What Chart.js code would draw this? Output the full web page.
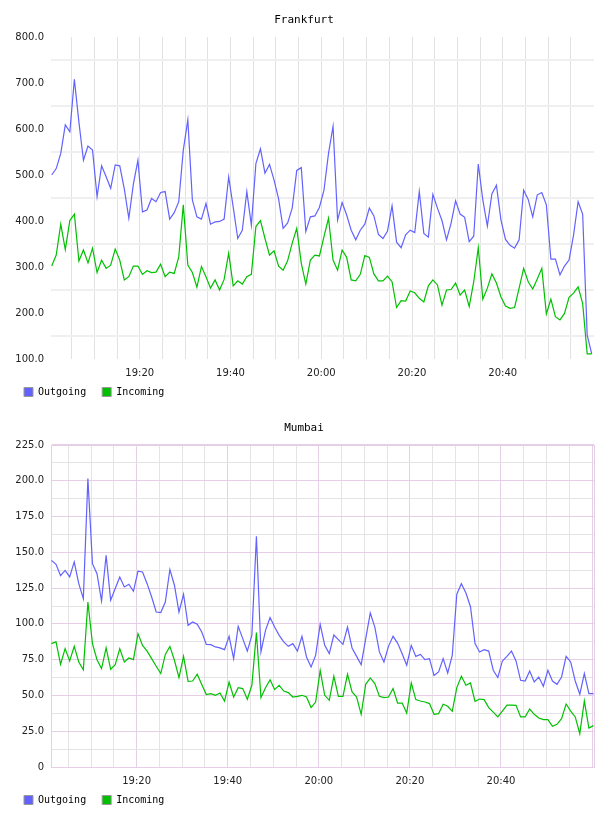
<!DOCTYPE html>
<html>
<head>
<meta charset="utf-8">
<title>Frankfurt / Mumbai traffic</title>
<script src="https://cdn.jsdelivr.net/npm/chart.js@4/dist/chart.umd.min.js"></script>
<style>
    html, body { margin: 0; padding: 0; background: #fff; }
    .box { width: 608px; height: 408px; }
</style>
</head>
<body>
<div class="box"><canvas id="frankfurtChart" width="608" height="408"></canvas></div>
<div class="box"><canvas id="mumbaiChart" width="608" height="408"></canvas></div>
<script>
// ===== DATA =====
// one sample per minute, x = minutes after 19:00

const frankfurtStart = 0.6;
const frankfurtOutgoing = [
    500, 514, 547, 609, 594, 708, 615, 532, 563, 554,
    453, 520, 496, 471, 522, 520, 470, 406, 480, 532,
    420, 424, 449, 442, 462, 464, 404, 418, 442, 554,
    620, 446, 409, 404, 438, 393, 398, 399, 404, 496,
    430, 362, 380, 464, 391, 525, 557, 504, 523, 489,
    448, 384, 396, 428, 510, 516, 377, 409, 411, 430,
    467, 547, 606, 402, 440, 413, 380, 359, 380, 393,
    428, 411, 371, 362, 378, 433, 354, 342, 370, 380,
    375, 464, 373, 365, 458, 428, 401, 359, 395, 444,
    415, 408, 355, 367, 524, 446, 389, 459, 478, 402,
    360, 347, 341, 359, 467, 447, 409, 457, 462, 435,
    317, 317, 283, 302, 315, 370, 442, 415, 152, 111
];
const frankfurtIncoming = [
    302, 326, 393, 338, 401, 415, 313, 337, 309, 341,
    288, 315, 297, 304, 339, 315, 272, 279, 302, 302,
    284, 292, 288, 289, 306, 279, 289, 286, 322, 435,
    304, 288, 256, 301, 279, 254, 272, 250, 273, 330,
    259, 270, 263, 279, 284, 388, 401, 362, 326, 335,
    302, 293, 314, 352, 384, 308, 263, 315, 326, 324,
    366, 406, 315, 293, 337, 321, 272, 270, 284, 325,
    321, 285, 270, 270, 280, 268, 212, 227, 226, 248,
    244, 232, 224, 259, 272, 261, 217, 250, 251, 265,
    239, 250, 214, 268, 342, 230, 254, 285, 265, 235,
    215, 210, 212, 254, 297, 268, 252, 274, 297, 198,
    230, 192, 185, 199, 234, 243, 257, 221, 111, 111
];

const mumbaiStart = 1.3;
const mumbaiOutgoing = [
    144.4, 141.6, 133.7, 137.4, 132.8, 143.3, 128.1, 117.7, 201.5, 142.1,
    135.1, 116.0, 148.0, 116.5, 124.7, 132.8, 125.8, 127.7, 122.8, 136.8,
    136.3, 128.1, 118.8, 108.3, 107.9, 115.3, 138.0, 127.0, 108.3, 120.7,
    99.0, 101.3, 99.7, 94.3, 85.7, 85.5, 83.9, 83.2, 82.0, 91.3,
    75.7, 98.3, 89.7, 81.0, 92.0, 161.2, 80.4, 95.5, 104.4, 97.8,
    92.0, 87.4, 84.3, 86.2, 81.0, 91.3, 76.9, 69.9, 78.0, 99.7,
    85.0, 79.2, 92.2, 89.0, 85.7, 97.8, 83.2, 77.3, 71.5, 89.7,
    107.6, 97.8, 80.4, 73.4, 84.3, 91.3, 86.6, 79.2, 71.1, 85.0,
    77.3, 78.7, 75.0, 75.7, 63.9, 66.4, 75.7, 65.7, 78.0, 120.7,
    128.1, 121.6, 112.0, 86.2, 80.4, 82.0, 81.0, 67.6, 62.5, 74.1,
    77.3, 81.0, 74.1, 60.6, 60.1, 67.1, 59.4, 62.9, 56.4, 67.6,
    60.1, 57.8, 62.9, 77.3, 73.4, 60.1, 50.8, 65.3, 51.3, 51.3
];
const mumbaiIncoming = [
    86.2, 87.4, 71.8, 82.7, 74.1, 84.3, 73.4, 68.0, 115.3, 86.2,
    75.0, 68.8, 83.2, 68.3, 71.5, 82.7, 73.4, 76.2, 75.0, 93.2,
    85.0, 81.0, 75.7, 70.4, 65.3, 78.7, 84.3, 74.6, 62.5, 77.3,
    59.9, 60.1, 64.8, 57.6, 50.6, 51.3, 50.1, 51.7, 46.1, 59.4,
    48.9, 55.4, 54.8, 47.3, 57.1, 93.9, 48.5, 55.4, 61.0, 54.1,
    57.1, 53.1, 52.0, 48.9, 49.4, 50.1, 48.9, 41.5, 45.4, 67.4,
    50.1, 46.6, 63.4, 49.4, 49.4, 64.8, 52.4, 48.9, 36.8, 57.8,
    62.2, 58.3, 49.4, 48.5, 48.9, 54.8, 44.7, 44.7, 37.7, 58.7,
    47.1, 46.1, 45.4, 44.3, 36.8, 37.3, 43.8, 42.4, 38.9, 55.5,
    63.4, 57.1, 58.7, 45.9, 47.5, 47.1, 41.5, 38.4, 35.0, 39.1,
    43.3, 43.3, 43.1, 35.0, 35.0, 40.5, 36.8, 34.2, 33.1, 33.1,
    28.4, 29.8, 33.8, 44.0, 39.1, 35.0, 23.3, 46.1, 27.2, 28.9
];

// x grid every 5 minutes, labels every 20
const gridMinutes = [5, 10, 15, 20, 25, 30, 35, 40, 45, 50, 55, 60,
                     65, 70, 75, 80, 85, 90, 95, 100, 105, 110, 115];
const labelMinutes = [20, 40, 60, 80, 100];

const frankfurtYLabels = [100, 200, 300, 400, 500, 600, 700, 800];
const mumbaiYLabels = [0, 25, 50, 75, 100, 125, 150, 175, 200, 225];

const BLUE = '#6262ff';
const GREEN = '#00c000';
const PURPLE = '#e6cfe6';

// ===== Helpers =====
function hhmm(m) {
    const h = 19 + Math.floor(m / 60);
    return h + ':' + String(m % 60).padStart(2, '0');
}

function toPoints(start, values) {
    return values.map((v, i) => ({ x: start + i, y: v }));
}

// small layout tweaks after Chart.js has placed the boxes:
// title centred on the whole canvas, x labels allowed below the thin x axis box
const layoutTweaks = {
    id: 'layoutTweaks',
    afterLayout(chart) {
        if (chart.titleBlock) {
            chart.titleBlock.left = 0;
            chart.titleBlock.right = chart.width;
        }
        chart.scales.x.bottom = chart.height;
    }
};

function makeChart(id, o) {
    return new Chart(document.getElementById(id), {
        type: 'line',
        data: {
            datasets: [
                { label: 'Outgoing', data: toPoints(o.start, o.outgoing),
                  borderColor: BLUE, backgroundColor: BLUE, borderWidth: 1.2,
                  pointRadius: 0, tension: 0, fill: false },
                { label: 'Incoming', data: toPoints(o.start, o.incoming),
                  borderColor: GREEN, backgroundColor: GREEN, borderWidth: 1.2,
                  pointRadius: 0, tension: 0, fill: false }
            ]
        },
        plugins: [layoutTweaks],
        options: {
            responsive: false,
            animation: false,
            devicePixelRatio: 1,
            events: [],
            layout: { padding: { left: 8, right: 14, top: 0, bottom: 1 } },
            plugins: {
                title: {
                    display: true,
                    text: o.title,
                    color: '#000',
                    font: { family: 'DejaVu Sans Mono', size: 11, weight: 'normal' },
                    padding: { top: 14, bottom: 9.8 }
                },
                legend: {
                    position: 'bottom',
                    align: 'start',
                    labels: {
                        boxWidth: 9,
                        boxHeight: 9,
                        padding: 16,
                        color: '#000',
                        font: { family: 'DejaVu Sans Mono', size: 10 },
                        generateLabels: chart => chart.data.datasets.map((ds, i) => ({
                            text: ds.label,
                            fillStyle: ds.borderColor,
                            strokeStyle: '#999',
                            lineWidth: 1,
                            hidden: false,
                            datasetIndex: i
                        }))
                    }
                },
                tooltip: { enabled: false }
            },
            scales: {
                x: {
                    type: 'linear',
                    min: o.xMin,
                    max: o.xMax,
                    afterFit: s => { s.height = 12; },
                    afterBuildTicks: s => { s.ticks = o.xTicks.map(v => ({ value: v })); },
                    border: o.border ? { display: true, color: PURPLE, width: 1 } : { display: false },
                    grid: {
                        drawTicks: false,
                        color: o.xGridColor,
                        lineWidth: 1
                    },
                    ticks: {
                        autoSkip: false,
                        maxRotation: 0,
                        padding: 8,
                        color: '#222',
                        font: { family: 'DejaVu Sans', size: 10 },
                        callback: v => labelMinutes.includes(v) ? hhmm(v) : ''
                    }
                },
                y: {
                    min: o.yMin,
                    max: o.yMax,
                    afterFit: s => { s.width = 43; },
                    border: o.border ? { display: true, color: PURPLE, width: 1 } : { display: false },
                    grid: {
                        drawTicks: false,
                        color: o.yGridColor,
                        lineWidth: o.yGridWidth
                    },
                    ticks: {
                        stepSize: o.yStep,
                        autoSkip: false,
                        padding: 7,
                        color: '#222',
                        font: { family: 'DejaVu Sans', size: 10 },
                        callback: o.yLabel
                    }
                }
            }
        }
    });
}

// ===== Frankfurt =====
makeChart('frankfurtChart', {
    title: 'Frankfurt',
    start: frankfurtStart,
    outgoing: frankfurtOutgoing,
    incoming: frankfurtIncoming,
    xMin: 0.45, xMax: 120.1,
    xTicks: gridMinutes,
    xGridColor: '#e2e2e2',
    yMin: 100, yMax: 800, yStep: 50,
    yGridColor: ctx => frankfurtYLabels.includes(ctx.tick.value) ? 'rgba(0,0,0,0)' : '#efefef',
    yGridWidth: 2,
    yLabel: v => frankfurtYLabels.includes(v) ? v.toFixed(1) : '',
    border: false
});

// ===== Mumbai =====
makeChart('mumbaiChart', {
    title: 'Mumbai',
    start: mumbaiStart,
    outgoing: mumbaiOutgoing,
    incoming: mumbaiIncoming,
    xMin: 1.2, xMax: 120.42,
    xTicks: gridMinutes.concat([120, 120.42]),
    xGridColor: ctx => (ctx.tick && ctx.tick.value % 20 === 0) || (ctx.tick && ctx.tick.value > 120) ? PURPLE : '#e4e4e4',
    yMin: 0, yMax: 225, yStep: 12.5,
    yGridColor: ctx => mumbaiYLabels.includes(ctx.tick.value) ? PURPLE : '#e4e4e4',
    yGridWidth: ctx => ctx.tick.value === 225 ? 2 : 1,
    yLabel: v => mumbaiYLabels.includes(v) ? (v === 0 ? '0' : v.toFixed(1)) : '',
    border: true
});
</script>
</body>
</html>
